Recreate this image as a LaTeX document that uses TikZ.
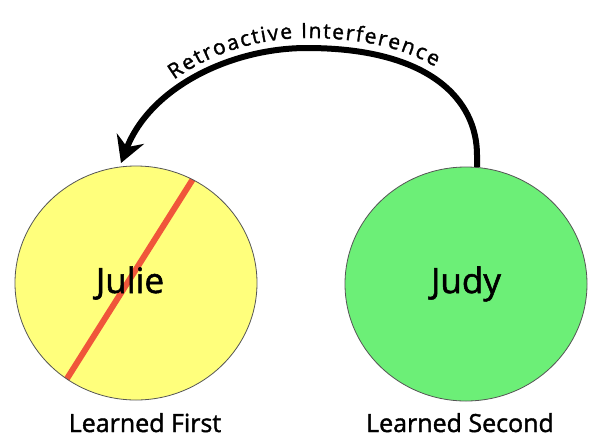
\documentclass[tikz,border=0pt]{standalone}
\usepackage{fontspec}
\setmainfont{Open Sans}[FakeBold=1.5]
\usetikzlibrary{arrows.meta,shapes.geometric,decorations.text}
\definecolor{juliefill}{HTML}{FFFF7C}
\definecolor{judyfill}{HTML}{6CEF77}
\definecolor{strike}{HTML}{F0563A}
\definecolor{rim}{HTML}{555555}
\newcommand\arclabelfont{\fontsize{21}{22}\selectfont}
\begin{document}
\begin{tikzpicture}[x=1pt,y=-1pt,
  memory/.style={ellipse, draw=rim, line width=0.8pt, minimum width=242pt,
    minimum height=234pt, inner sep=0pt, font=\fontsize{35}{38}\selectfont},
  caption/.style={font=\fontsize{25}{28}\selectfont, inner sep=0pt, anchor=base},
  bigarrow/.style={line width=6pt, -{Stealth[length=26pt,width=29pt,inset=9pt]}}]
\path[fill=white] (0,0) rectangle (589,437);
\useasboundingbox (0,0) rectangle (589,437);

% the two memories
\node[memory, fill=juliefill, path picture={
    \draw[strike, line width=6pt]
      ([xshift=62pt,yshift=112pt]path picture bounding box.center) --
      ([xshift=-73pt,yshift=-102pt]path picture bounding box.center);}]
  (julie) at (136,283) {\kern-12pt Julie};
\node[memory, fill=judyfill] (judy) at (466,284) {Judy};

% captions
\node[caption] (first) at (145,432) {Learned First};
\node[caption] (second) at (460,432) {Learned Second};

% interference arrow from the newer memory back to the older one
\coordinate (src) at (477,167);
\coordinate (tip) at (121,163);
\draw[bigarrow] (src) -- (477,155) .. controls (477,100) and (430,48) .. (307,48)
  .. controls (230,48) and (150,88) .. (tip);

% curved label above the arrow, letters spread a little apart
\path[decorate, decoration={text effects along path, text align=center,
    raise=10pt, text={Retroactive Interference},
    text effects/.cd, text along path,
    characters={font=\arclabelfont},
    character widths={font=\arclabelfont, inner xsep=0.6pt}}]
  (tip) .. controls (150,88) and (230,48) .. (307,48)
  .. controls (430,48) and (477,100) .. (477,155);
\end{tikzpicture}
\end{document}
